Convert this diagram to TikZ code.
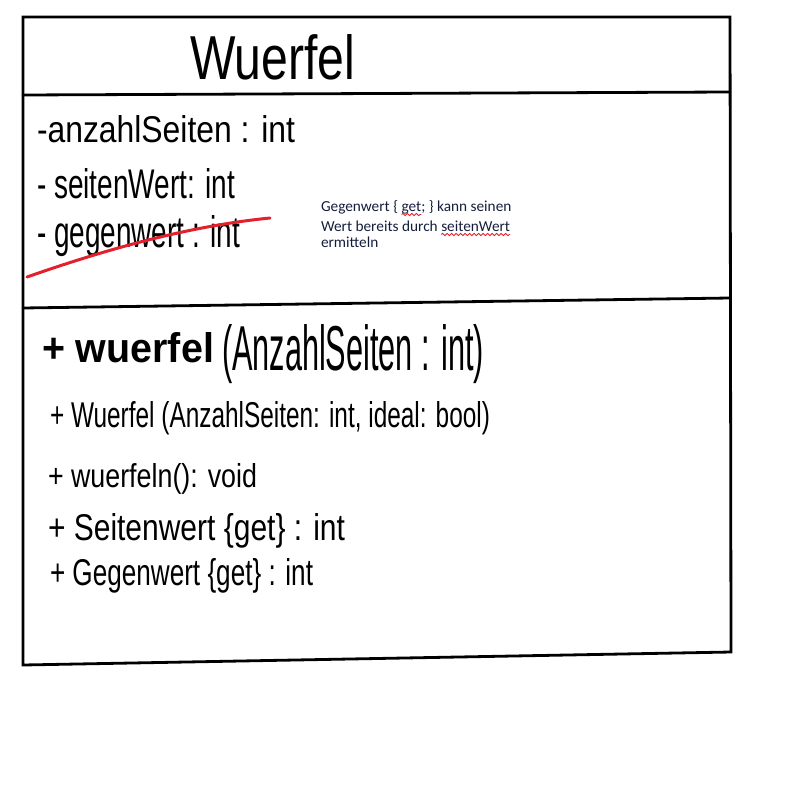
\documentclass[tikz,border=0pt]{standalone}
\usepackage{fontspec}
\usepackage{graphicx}
\setmainfont{Liberation Sans}
\newfontfamily\notefont{Carlito}
\usetikzlibrary{decorations.pathmorphing}
\definecolor{strike}{RGB}{228,32,44}
\definecolor{notetext}{RGB}{20,30,60}
\tikzset{
  boxline/.style={line width=2.8pt, line cap=round},
  hand/.style={anchor=base west, inner sep=0pt, outer sep=0pt},
  notestyle/.style={anchor=base west, inner sep=0pt, outer sep=0pt, font=\notefont\fontsize{15.3}{18}\selectfont, text=notetext},
  squiggle/.style={draw=strike, line width=0.9pt, decorate, decoration={snake, amplitude=1.1pt, segment length=4.5pt}}
}
\newcommand{\fitw}[3]{\resizebox{#1pt}{#2pt}{#3}}
\begin{document}
\begin{tikzpicture}[x=1pt,y=-1pt]
\useasboundingbox (0,0) rectangle (800,800);
% outer box and dividers
\draw[boxline] (23,17) -- (730,17) -- (731,652) -- (23,665) -- cycle;
\draw[boxline] (23,95) -- (730,92);
\draw[boxline] (23,308) -- (730,298);
% class name
\node[hand] (title) at (190,80) {\fitw{165}{45}{Wuerfel}};
% attributes
\node[hand] (a1) at (37,142) {\fitw{258}{27}{-anzahlSeiten : int}};
\node[hand] (a2) at (37,198) {\fitw{198}{30}{- seitenWert: int}};
\node[hand] (a3) at (37,247) {\fitw{203}{32}{- gegenwert : int}};
\draw[strike, line width=3pt, line cap=round] (27,277) .. controls (110,248) and (190,226) .. (270,218);
% note
\node[notestyle] (n1a) at (321,211) {Gegenwert \{};
\node[notestyle] (n1b) at ([xshift=3.5pt]n1a.base east) {get};
\node[notestyle] (n1c) at (n1b.base east) {; \} kann seinen};
\node[notestyle] (n2a) at (321,231) {Wert bereits durch};
\node[notestyle] (n2b) at ([xshift=3.5pt]n2a.base east) {seitenWert};
\node[notestyle] (n3) at (321,247) {ermitteln};
\coordinate (s1a) at ([yshift=-3.5pt]n1b.base west);
\coordinate (s1b) at ([yshift=-3.5pt]n1b.base east);
\coordinate (s2a) at ([yshift=-3.5pt]n2b.base west);
\coordinate (s2b) at ([yshift=-3.5pt]n2b.base east);
\draw[squiggle] (s1a) -- (s1b);
\draw[squiggle] (s2a) -- (s2b);
% methods
\node[hand] (m1a) at (42,362) {\fitw{172}{30}{\bfseries + wuerfel}};
\node[hand] (m1b) at (222,370) {\fitw{262}{46}{(AnzahlSeiten : int)}};
\node[hand] (m2) at (50,427) {\fitw{440}{26}{+ Wuerfel (AnzahlSeiten: int, ideal: bool)}};
\node[hand] (m3) at (48,487) {\fitw{209}{24}{+ wuerfeln(): void}};
\node[hand] (m4) at (48,540) {\fitw{297}{27}{+ Seitenwert \{get\} : int}};
\node[hand] (m5) at (50,585) {\fitw{263}{27}{+ Gegenwert \{get\} : int}};
\end{tikzpicture}
\end{document}
